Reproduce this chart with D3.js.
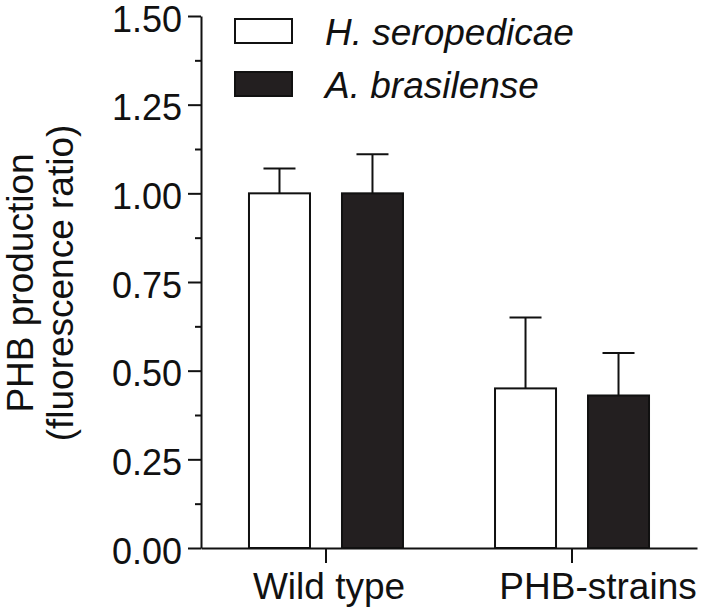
<!DOCTYPE html>
<html>
<head>
<meta charset="utf-8">
<script src="https://cdn.jsdelivr.net/npm/d3@7"></script>
<style>
  body { margin: 0; background: #fff; }
  text { font-family: "Liberation Sans", Arial, sans-serif; fill: #111; }
</style>
</head>
<body>
<div id="chart"></div>
<script>
// data
var groups = ["Wild type", "PHB-strains"];
var series = ["H. seropedicae", "A. brasilense"];
var hsMean = [1.00, 0.45];
var hsErr  = [0.07, 0.20];
var abMean = [1.00, 0.43];
var abErr  = [0.11, 0.12];
var yTicks = [0, 0.25, 0.5, 0.75, 1.0, 1.25, 1.5];
var yMinor = [0.125, 0.375, 0.625, 0.875, 1.125, 1.375];

var fills = ["#ffffff", "#231f20"];

var margin = {top: 16, right: 11, bottom: 64, left: 201},
    w = 708 - margin.left - margin.right,
    h = 612 - margin.top - margin.bottom;

var rows = [];
groups.forEach(function(g, i) {
  rows.push({group: g, series: series[0], mean: hsMean[i], err: hsErr[i], s: 0});
  rows.push({group: g, series: series[1], mean: abMean[i], err: abErr[i], s: 1});
});

var svg = d3.select("#chart").append("svg")
    .attr("width", 708)
    .attr("height", 612);

var g = svg.append("g")
    .attr("transform", "translate(" + margin.left + "," + margin.top + ")");

// scales
var x0 = d3.scaleBand()
    .domain(groups)
    .range([0, w])
    .paddingInner(0)
    .paddingOuter(0.008);

var x1 = d3.scaleBand()
    .domain(series)
    .range([0, 154])
    .paddingInner(0.344);

var y = d3.scaleLinear()
    .domain([0, 1.5])
    .range([h, 0]);

function barX(d) {
  return x0(d.group) + x0.bandwidth() / 2 - 77 + x1(d.series);
}

// bars
g.selectAll(".bar")
    .data(rows)
  .enter().append("rect")
    .attr("class", "bar")
    .attr("x", barX)
    .attr("width", x1.bandwidth())
    .attr("y", function(d) { return y(d.mean); })
    .attr("height", function(d) { return h - y(d.mean); })
    .attr("fill", function(d) { return fills[d.s]; })
    .attr("stroke", "#111")
    .attr("stroke-width", 2);

// error bars (upper only)
var eb = g.selectAll(".err")
    .data(rows)
  .enter().append("g")
    .attr("class", "err")
    .attr("stroke", "#111")
    .attr("stroke-width", 2);

eb.append("line")
    .attr("x1", function(d) { return barX(d) + x1.bandwidth() / 2; })
    .attr("x2", function(d) { return barX(d) + x1.bandwidth() / 2; })
    .attr("y1", function(d) { return y(d.mean); })
    .attr("y2", function(d) { return y(d.mean + d.err); });

eb.append("line")
    .attr("x1", function(d) { return barX(d) + x1.bandwidth() / 2 - 16; })
    .attr("x2", function(d) { return barX(d) + x1.bandwidth() / 2 + 16; })
    .attr("y1", function(d) { return y(d.mean + d.err); })
    .attr("y2", function(d) { return y(d.mean + d.err); });

// y axis, minor ticks first
g.append("g")
    .attr("class", "ymin")
    .call(d3.axisLeft(y).tickValues(yMinor).tickSize(6).tickSizeOuter(0).tickFormat(""))
    .call(function(a) { a.select(".domain").remove(); })
    .selectAll("line").attr("stroke", "#111").attr("stroke-width", 2);

var ya = g.append("g")
    .call(d3.axisLeft(y).tickValues(yTicks).tickSize(13).tickSizeOuter(0).tickPadding(6)
      .tickFormat(d3.format(".2f")));
ya.select(".domain").attr("stroke", "#111").attr("stroke-width", 2);
ya.selectAll(".tick line").attr("stroke", "#111").attr("stroke-width", 2);
ya.selectAll(".tick text")
    .attr("font-size", "36px")
    .attr("dy", "0.42em")
    .style("font-family", "'Liberation Sans', Arial, sans-serif");

// x axis
var xa = g.append("g")
    .attr("transform", "translate(0," + h + ")")
    .call(d3.axisBottom(x0).tickSize(15).tickSizeOuter(0).tickPadding(10));
xa.select(".domain").attr("stroke", "#111").attr("stroke-width", 2);
xa.selectAll(".tick line").attr("stroke", "#111").attr("stroke-width", 2);
xa.selectAll(".tick text")
    .attr("font-size", "37px")
    .attr("dx", function(d, i) { return i ? 26 : 3; })
    .style("font-family", "'Liberation Sans', Arial, sans-serif");

// y title
var yt = svg.append("text")
    .attr("transform", "translate(33,283) rotate(-90)")
    .attr("text-anchor", "middle")
    .attr("font-size", "37px");
yt.append("tspan").attr("x", 0).attr("dy", 0).text("PHB production");
yt.append("tspan").attr("x", 0).attr("dy", 40).text("(fluorescence ratio)");

// legend
var lg = svg.selectAll(".leg")
    .data(series)
  .enter().append("g")
    .attr("class", "leg")
    .attr("transform", function(d, i) { return "translate(235," + (19 + i * 53) + ")"; });

lg.append("rect")
    .attr("width", 57)
    .attr("height", 24)
    .attr("fill", function(d, i) { return fills[i]; })
    .attr("stroke", "#111")
    .attr("stroke-width", 2);

lg.append("text")
    .attr("x", 90)
    .attr("y", 26)
    .attr("font-size", "37px")
    .attr("font-style", "italic")
    .text(function(d) { return d; });
</script>
</body>
</html>
